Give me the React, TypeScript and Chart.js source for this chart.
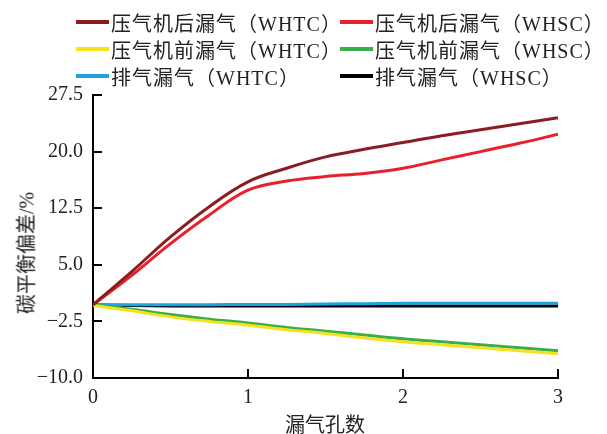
import React, { useEffect, useRef } from "react";
import { Chart, registerables } from "chart.js";

Chart.register(...registerables);

// ---- data ----
const xValues = [0, 0.25, 0.5, 0.75, 1, 1.25, 1.5, 1.75, 2, 2.25, 2.5, 2.75, 3];
const afterWHTC = [-0.3, 4.1, 8.7, 12.7, 16.0, 17.8, 19.3, 20.3, 21.2, 22.1, 22.9, 23.7, 24.5];
const afterWHSC = [-0.3, 3.6, 7.8, 11.6, 14.9, 16.1, 16.7, 17.1, 17.8, 18.9, 20.0, 21.1, 22.3];
const beforeWHTC = [-0.4, -1.1, -1.9, -2.5, -3.0, -3.6, -4.1, -4.7, -5.2, -5.6, -6.0, -6.4, -6.8];
const beforeWHSC = [-0.3, -0.9, -1.6, -2.2, -2.7, -3.3, -3.8, -4.3, -4.8, -5.2, -5.6, -6.0, -6.4];
const exhaustWHTC = [-0.3, -0.3, -0.3, -0.3, -0.25, -0.25, -0.2, -0.15, -0.1, -0.1, -0.1, -0.1, -0.1];
const exhaustWHSC = [-0.3, -0.4, -0.45, -0.45, -0.45, -0.45, -0.45, -0.45, -0.45, -0.45, -0.45, -0.45, -0.45];

const seriesLabels = [
  "压气机后漏气（WHTC）",
  "压气机后漏气（WHSC）",
  "压气机前漏气（WHTC）",
  "压气机前漏气（WHSC）",
  "排气漏气（WHTC）",
  "排气漏气（WHSC）",
];
const seriesColors = ["#8c1c22", "#ea1f2c", "#f7e11e", "#3aae4a", "#1ea3de", "#000000"];
const seriesValues = [afterWHTC, afterWHSC, beforeWHTC, beforeWHSC, exhaustWHTC, exhaustWHSC];

const xTitle = "漏气孔数";
const yTitle = "碳平衡偏差/%";
const yMin = -10;
const yMax = 27.5;
const yStep = 7.5;
const xMin = 0;
const xMax = 3;

const FONT = '"Liberation Serif", "Noto Sans CJK SC", serif';

const inwardTicks = {
  id: "inwardTicks",
  afterDraw(chart: any) {
    const ctx = chart.ctx;
    const area = chart.chartArea;
    const ys = chart.scales.y;
    const xs = chart.scales.x;
    ctx.save();
    ctx.strokeStyle = "#000";
    ctx.lineWidth = 2;
    ys.ticks.forEach((t: any) => {
      const y = Math.round(ys.getPixelForValue(t.value));
      ctx.beginPath();
      ctx.moveTo(area.left, y);
      ctx.lineTo(area.left + 9, y);
      ctx.stroke();
    });
    xs.ticks.forEach((t: any) => {
      const x = Math.round(xs.getPixelForValue(t.value));
      ctx.beginPath();
      ctx.moveTo(x, area.bottom);
      ctx.lineTo(x, area.bottom - 9);
      ctx.stroke();
    });
    ctx.restore();
  },
};

export default function App() {
  const ref = useRef<HTMLCanvasElement | null>(null);

  useEffect(() => {
    if (!ref.current) return;
    const chart = new Chart(ref.current, {
      type: "line",
      data: {
        datasets: seriesValues.map((vals, i) => ({
          label: seriesLabels[i],
          data: vals.map((v, j) => ({ x: xValues[j], y: v })),
          borderColor: seriesColors[i],
          backgroundColor: seriesColors[i],
          borderWidth: 3,
          pointRadius: 0,
          tension: 0.4,
          fill: false,
        })),
      },
      options: {
        animation: false,
        responsive: false,
        maintainAspectRatio: false,
        layout: { padding: { left: 0, right: 49, top: 95, bottom: 0 } },
        plugins: { legend: { display: false }, tooltip: { enabled: false } },
        scales: {
          x: {
            type: "linear",
            min: xMin,
            max: xMax,
            afterFit: (s: any) => {
              s.height = 56;
            },
            ticks: {
              stepSize: 1,
              padding: 8,
              color: "#222",
              font: { family: FONT, size: 20 },
              callback: (v: any) => String(v),
            },
            grid: { drawOnChartArea: false, drawTicks: false },
            border: { display: true, color: "#000", width: 2 },
          },
          y: {
            type: "linear",
            min: yMin,
            max: yMax,
            afterFit: (s: any) => {
              s.width = 93;
            },
            ticks: {
              stepSize: yStep,
              padding: 10,
              color: "#222",
              font: { family: FONT, size: 20 },
              callback: (v: any) => (v < 0 ? "\u2212" : "") + Math.abs(Number(v)).toFixed(1),
            },
            grid: { drawOnChartArea: false, drawTicks: false },
            border: { display: true, color: "#000", width: 2 },
          },
        },
      },
      plugins: [inwardTicks],
    });
    return () => chart.destroy();
  }, []);

  const legendPos = [
    { left: 76, top: 22 },
    { left: 340, top: 22 },
    { left: 76, top: 49 },
    { left: 340, top: 49 },
    { left: 76, top: 76 },
    { left: 340, top: 76 },
  ];

  return (
    <div style={{ position: "absolute", left: 0, top: 0, width: 607, height: 434, background: "#fff", overflow: "hidden" }}>
      <canvas ref={ref} width={607} height={434} style={{ position: "absolute", left: 0, top: 0, width: 607, height: 434 }} />
      {seriesLabels.map((lab, i) => (
        <div
          key={lab}
          style={{
            position: "absolute",
            left: legendPos[i].left,
            top: legendPos[i].top - 13,
            height: 26,
            display: "flex",
            alignItems: "center",
            whiteSpace: "nowrap",
            fontFamily: FONT,
            fontSize: 20,
            color: "#222",
          }}
        >
          <span style={{ display: "inline-block", width: 33, height: 4, background: seriesColors[i], marginRight: 2 }} />
          <span style={{ letterSpacing: 1 }}>{lab}</span>
        </div>
      ))}
      <div
        style={{
          position: "absolute",
          left: 325,
          top: 423,
          transform: "translate(-50%, -50%)",
          whiteSpace: "nowrap",
          fontFamily: FONT,
          fontSize: 20,
          color: "#222",
        }}
      >
        {xTitle}
      </div>
      <div
        style={{
          position: "absolute",
          left: 25,
          top: 253,
          transform: "translate(-50%, -50%) rotate(-90deg)",
          whiteSpace: "nowrap",
          fontFamily: FONT,
          fontSize: 20,
          color: "#222",
        }}
      >
        {yTitle}
      </div>
    </div>
  );
}
